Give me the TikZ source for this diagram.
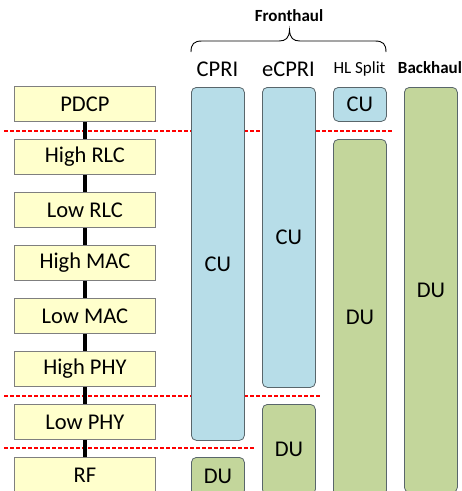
\documentclass[tikz,border=0pt]{standalone}
\usepackage{fontspec}
\setmainfont{Carlito}
\definecolor{layerfill}{HTML}{FFFFCC}
\definecolor{cublue}{HTML}{B7DDE8}
\definecolor{dugreen}{HTML}{C3D69B}
\definecolor{edgegray}{HTML}{7F7F7F}
\definecolor{coledge}{HTML}{59666B}
\begin{document}
\begin{tikzpicture}[x=1pt,y=-1pt,
  layer/.style={draw=edgegray, fill=layerfill, line width=0.8pt, minimum width=141pt, minimum height=35pt, inner sep=0pt, anchor=north west, font=\fontsize{22.5}{27}\selectfont},
  colbox/.style={draw=coledge, rounded corners=5pt, line width=0.8pt, minimum width=53pt, inner sep=0pt, anchor=north west, font=\fontsize{22.5}{27}\selectfont},
  cubox/.style={colbox, fill=cublue},
  dubox/.style={colbox, fill=dugreen},
  splitline/.style={red, line width=2pt, dash pattern=on 4pt off 2pt},
  link/.style={line width=4pt, black},
  head/.style={anchor=base, inner sep=0pt, font=\fontsize{22.5}{27}\selectfont},
  smallhead/.style={anchor=base, inner sep=0pt, font=\fontsize{17}{20}\selectfont}]
\useasboundingbox (0,0) rectangle (462,491);
\clip (0,0) rectangle (462,491);
% split lines
\draw[splitline] (4,130.5) -- (393,130.5);
\draw[splitline] (4,396) -- (320,396);
\draw[splitline] (4,448) -- (255,448);
% protocol layers
\node[layer] (pdcp) at (14,86) {PDCP};
\node[layer] (hrlc) at (14,139) {High RLC};
\node[layer] (lrlc) at (14,192) {Low RLC};
\node[layer] (hmac) at (14,245) {High MAC};
\node[layer] (lmac) at (14,298) {Low MAC};
\node[layer] (hphy) at (14,351) {High PHY};
\node[layer] (lphy) at (14,404) {Low PHY};
\node[layer] (rf) at (14,457) {RF};
\draw[link] (pdcp.south) -- (hrlc.north);
\draw[link] (hrlc.south) -- (lrlc.north);
\draw[link] (lrlc.south) -- (hmac.north);
\draw[link] (hmac.south) -- (lmac.north);
\draw[link] (lmac.south) -- (hphy.north);
\draw[link] (hphy.south) -- (lphy.north);
\draw[link] (lphy.south) -- (rf.north);
% columns
\node[cubox, minimum height=353pt] (cpricu) at (191,87) {CU};
\node[dubox, minimum height=38pt] (cpridu) at (191,457) {DU};
\node[cubox, minimum height=300pt] (ecpricu) at (262,87) {CU};
\node[dubox, minimum height=90pt] (ecpridu) at (262,404) {DU};
\node[cubox, minimum height=34pt] (hlcu) at (333,87) {CU};
\node[dubox, minimum height=356pt] (hldu) at (333,139) {DU};
\node[dubox, minimum height=405pt] (bhdu) at (404,87) {DU};
% headings
\node[head] (cpri) at (217.5,76) {CPRI};
\node[head] (ecpri) at (288.5,76) {eCPRI};
\node[smallhead] (hl) at (359.5,73.5) {HL Split};
\node[smallhead, font=\fontsize{17}{20}\selectfont\bfseries] (bh) at (430,73.5) {Backhaul};
\node[smallhead, font=\fontsize{17}{20}\selectfont\bfseries] (fh) at (289,21) {Fronthaul};
\draw[line width=0.9pt] (191,52) .. controls (191,44) and (194,41) .. (202,41) -- (279,41)
  .. controls (286,41) and (289,38) .. (289.5,30)
  .. controls (290,38) and (293,41) .. (300,41) -- (375,41)
  .. controls (383,41) and (386,44) .. (386,52);
\end{tikzpicture}
\end{document}
